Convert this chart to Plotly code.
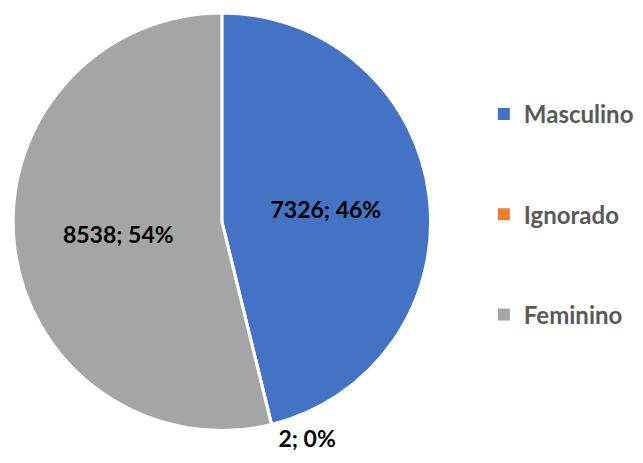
import plotly.graph_objects as go

categories = ["Masculino", "Ignorado", "Feminino"]
values = [7326, 2, 8538]
colors = ["#4472C4", "#ED7D31", "#A5A5A5"]
text_pos = ["inside", "outside", "inside"]

W, H = 643, 463

fig = go.Figure()
fig.add_trace(go.Pie(
    labels=categories, values=values, sort=False, direction="clockwise", rotation=0,
    marker=dict(colors=colors, line=dict(color="white", width=3)),
    texttemplate="%{value:.0f}; %{percent:.0%}",
    textposition=text_pos,
    insidetextorientation="horizontal",
    textfont=dict(family="Lato", size=23, color="black", weight="bold"),
    showlegend=False,
    domain=dict(x=[0, 421 / W], y=[(H - 422) / H, 1]),
    hoverinfo="label+value+percent",
))
for i, (c, col) in enumerate(zip(categories, colors)):
    fig.add_trace(go.Scatter(
        x=[None], y=[None], mode="markers", name=c,
        marker=dict(symbol="square", size=12, color=col),
        legendgroup=c, showlegend=True,
    ))

fig.update_layout(
    width=W, height=H,
    margin=dict(l=0, r=0, t=0, b=0),
    paper_bgcolor="white", plot_bgcolor="white",
    xaxis=dict(visible=False), yaxis=dict(visible=False),
    legend=dict(x=0.738, y=0.56, xanchor="left", yanchor="middle",
                font=dict(family="Lato", size=24, color="#595959", weight="bold"),
                tracegroupgap=66, itemwidth=30, bgcolor="rgba(0,0,0,0)"),
)
fig.write_html("out.html")
